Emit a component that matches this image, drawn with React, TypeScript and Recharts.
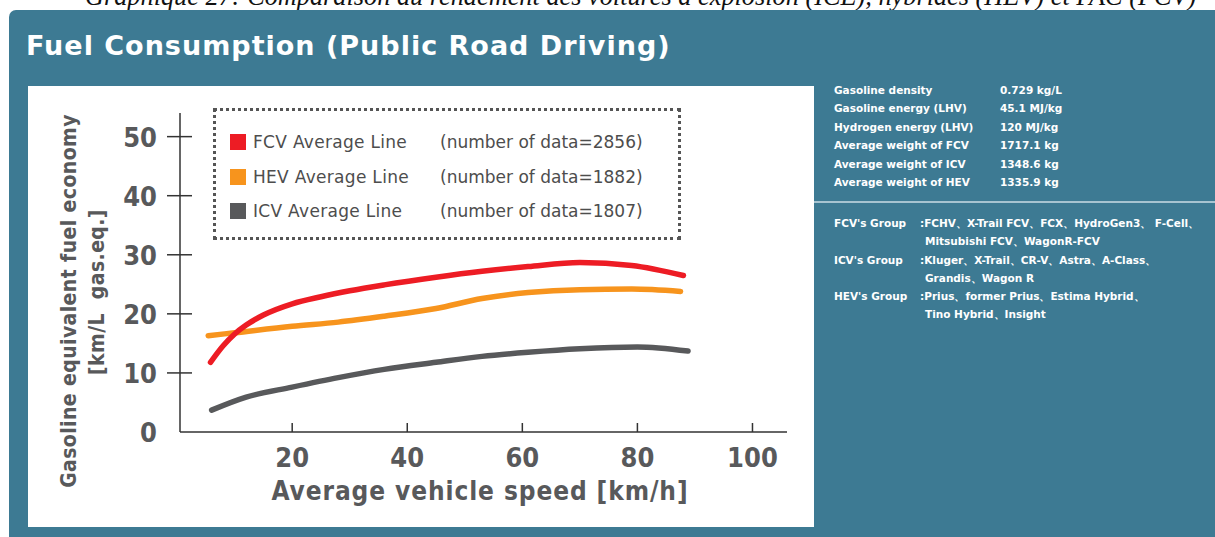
import React from 'react';
import { LineChart, Line, XAxis, YAxis } from 'recharts';

// FCV average line (speed km/h -> km/L gas.eq.)
const fcvSpeed = [5.8, 8, 10, 12, 15, 20, 25, 30, 36, 45, 53, 61, 70, 79, 88];
const fcvEconomy = [11.8, 14.6, 16.6, 18.1, 19.8, 21.7, 22.9, 23.9, 24.9, 26.2, 27.2, 28.0, 28.7, 28.2, 26.5];

const hevSpeed = [5.4, 10, 20, 28, 36, 45, 53, 61, 70, 79, 87.5];
const hevEconomy = [16.3, 16.8, 17.9, 18.6, 19.6, 20.9, 22.6, 23.6, 24.1, 24.2, 23.8];

const icvSpeed = [6, 12, 20, 28, 36, 45, 53, 61, 70, 80, 88.8];
const icvEconomy = [3.7, 5.9, 7.6, 9.2, 10.6, 11.8, 12.8, 13.5, 14.1, 14.4, 13.7];

const xTicks = [20, 40, 60, 80, 100];
const yTicks = [0, 10, 20, 30, 40, 50];

const legendItems = [
  { name: 'FCV Average Line', count: '(number of data=2856)', color: '#ed1c24' },
  { name: 'HEV Average Line', count: '(number of data=1882)', color: '#f7941d' },
  { name: 'ICV Average Line', count: '(number of data=1807)', color: '#58595b' },
];

const specLabels = [
  'Gasoline density',
  'Gasoline energy (LHV)',
  'Hydrogen energy (LHV)',
  'Average weight of FCV',
  'Average weight of ICV',
  'Average weight of HEV',
];
const specValues = ['0.729 kg/L', '45.1 MJ/kg', '120 MJ/kg', '1717.1 kg', '1348.6 kg', '1335.9 kg'];

const groupLabels = ["FCV's Group", "ICV's Group", "HEV's Group"];
const groupMembers = [
  [':FCHV、X-Trail FCV、FCX、HydroGen3、 F-Cell、', 'Mitsubishi FCV、WagonR-FCV'],
  [':Kluger、X-Trail、CR-V、Astra、A-Class、', 'Grandis、Wagon R'],
  [':Prius、former Prius、Estima Hybrid、', 'Tino Hybrid、Insight'],
];

const toPoints = (xs: number[], ys: number[]) => xs.map((x, i) => ({ speed: x, value: ys[i] }));
const fcvData = toPoints(fcvSpeed, fcvEconomy);
const hevData = toPoints(hevSpeed, hevEconomy);
const icvData = toPoints(icvSpeed, icvEconomy);

const axisFont = '"DejaVu Sans Condensed", "DejaVu Sans", sans-serif';
const gray = '#58595b';
const panelBlue = '#3d7a93';

const YTick = (props: any) => {
  const { x, y, payload } = props;
  return (
    <g>
      {payload.value !== 0 && <line x1={x - 13} x2={x + 12} y1={y} y2={y} stroke="#333" strokeWidth={1.5} />}
      <text x={x - 23} y={y + 10} textAnchor="end" fontSize={27} fontWeight="bold" fill={gray} fontFamily={axisFont}>
        {payload.value}
      </text>
    </g>
  );
};

const XTick = (props: any) => {
  const { x, y, payload } = props;
  return (
    <g>
      <line x1={x} x2={x} y1={y} y2={y - 9} stroke="#333" strokeWidth={1.5} />
      <text x={x} y={y + 35} textAnchor="middle" fontSize={27} fontWeight="bold" fill={gray} fontFamily={axisFont}>
        {payload.value}
      </text>
    </g>
  );
};

const LegendBox = () => (
  <div
    style={{
      position: 'absolute',
      left: 213,
      top: 108,
      width: 462,
      height: 112,
      border: '3px dotted #555',
      boxSizing: 'content-box',
      fontFamily: '"DejaVu Sans", sans-serif',
      fontSize: 17,
      color: '#4d4d4d',
      paddingTop: 14,
    }}
  >
    {legendItems.map((it) => (
      <div key={it.name} style={{ display: 'flex', alignItems: 'center', height: 34.5, paddingLeft: 14 }}>
        <span style={{ width: 16, height: 16, background: it.color, display: 'inline-block', marginRight: 7 }} />
        <span style={{ width: 187, letterSpacing: 0.3 }}>{it.name}</span>
        <span>{it.count}</span>
      </div>
    ))}
  </div>
);

export default function App() {
  return (
    <div style={{ position: 'absolute', left: 0, top: 0, width: 1215, height: 537, background: '#fff', overflow: 'hidden' }}>
      <div
        style={{
          position: 'absolute',
          left: 85,
          top: -17,
          fontFamily: '"Liberation Serif", serif',
          fontStyle: 'italic',
          fontSize: 26.3,
          lineHeight: '27px',
          whiteSpace: 'nowrap',
          color: '#111',
        }}
      >
        Graphique 27: Comparaison du rendement des voitures à explosion (ICE), hybrides (HEV) et PAC (FCV)
      </div>
      <div
        style={{
          position: 'absolute',
          left: 9,
          top: 10,
          width: 1206,
          height: 527,
          background: panelBlue,
          borderTopLeftRadius: 7,
        }}
      />
      <div
        style={{
          position: 'absolute',
          left: 26,
          top: 30,
          color: '#fff',
          fontFamily: '"DejaVu Sans", sans-serif',
          fontWeight: 'bold',
          fontSize: 27,
          letterSpacing: 1,
          whiteSpace: 'nowrap',
        }}
      >
        Fuel Consumption (Public Road Driving)
      </div>

      {/* white chart card */}
      <div style={{ position: 'absolute', left: 28, top: 86, width: 786, height: 441, background: '#fff' }}>
        <LineChart width={786} height={441} margin={{ top: 27, right: 27, left: 92, bottom: 65 }}>
          <XAxis
            type="number"
            dataKey="speed"
            domain={[0.5, 106]}
            ticks={xTicks}
            tick={<XTick />}
            tickLine={false}
            tickSize={0}
            tickMargin={0}
            height={30}
            axisLine={{ stroke: '#333', strokeWidth: 1.5 }}
            allowDuplicatedCategory={false}
          />
          <YAxis
            type="number"
            dataKey="value"
            domain={[0, 54]}
            ticks={yTicks}
            tick={<YTick />}
            tickLine={false}
            tickSize={0}
            tickMargin={0}
            width={60}
            axisLine={{ stroke: '#333', strokeWidth: 1.5 }}
          />
          <Line
            data={hevData}
            dataKey="value"
            name="HEV"
            type="monotone"
            stroke="#f7941d"
            strokeWidth={5.5}
            strokeLinecap="round"
            dot={false}
            activeDot={false}
            isAnimationActive={false}
          />
          <Line
            data={fcvData}
            dataKey="value"
            name="FCV"
            type="monotone"
            stroke="#ed1c24"
            strokeWidth={5.5}
            strokeLinecap="round"
            dot={false}
            activeDot={false}
            isAnimationActive={false}
          />
          <Line
            data={icvData}
            dataKey="value"
            name="ICV"
            type="monotone"
            stroke="#58595b"
            strokeWidth={5.5}
            strokeLinecap="round"
            dot={false}
            activeDot={false}
            isAnimationActive={false}
          />
        </LineChart>
      </div>

      <LegendBox />

      {/* axis titles */}
      <div
        style={{
          position: 'absolute',
          left: 69,
          top: 301,
          transform: 'translate(-50%, -50%) rotate(-90deg)',
          whiteSpace: 'nowrap',
          fontFamily: axisFont,
          fontWeight: 'bold',
          fontSize: 21,
          color: gray,
          letterSpacing: 0.4,
        }}
      >
        Gasoline equivalent fuel economy
      </div>
      <div
        style={{
          position: 'absolute',
          left: 97,
          top: 292,
          transform: 'translate(-50%, -50%) rotate(-90deg)',
          whiteSpace: 'pre',
          fontFamily: axisFont,
          fontWeight: 'bold',
          fontSize: 21,
          color: gray,
          letterSpacing: 0.4,
        }}
      >
        {'[km/L  gas.eq.]'}
      </div>
      <div
        style={{
          position: 'absolute',
          left: 480,
          top: 491,
          transform: 'translate(-50%, -50%)',
          whiteSpace: 'nowrap',
          fontFamily: axisFont,
          fontWeight: 'bold',
          fontSize: 26,
          letterSpacing: 0.9,
          color: gray,
        }}
      >
        Average vehicle speed [km/h]
      </div>

      {/* spec table */}
      <div style={{ position: 'absolute', left: 834, top: 81, fontFamily: '"DejaVu Sans", sans-serif', fontWeight: 'bold', fontSize: 10.5, color: '#fff', lineHeight: '18.4px' }}>
        {specLabels.map((l, i) => (
          <div key={l} style={{ display: 'flex', whiteSpace: 'nowrap' }}>
            <span style={{ width: 166 }}>{l}</span>
            <span>{specValues[i]}</span>
          </div>
        ))}
      </div>
      <div style={{ position: 'absolute', left: 814, top: 201, width: 401, height: 2, background: '#a7c4d1' }} />
      <div style={{ position: 'absolute', left: 834, top: 214, fontFamily: '"DejaVu Sans", sans-serif', fontWeight: 'bold', fontSize: 10.5, color: '#fff', lineHeight: '18.3px' }}>
        {groupLabels.map((g, i) => (
          <div key={g} style={{ display: 'flex', whiteSpace: 'nowrap' }}>
            <span style={{ width: 86 }}>{g}</span>
            <div>
              <div>{groupMembers[i][0]}</div>
              <div style={{ paddingLeft: 5 }}>{groupMembers[i][1]}</div>
            </div>
          </div>
        ))}
      </div>
    </div>
  );
}
